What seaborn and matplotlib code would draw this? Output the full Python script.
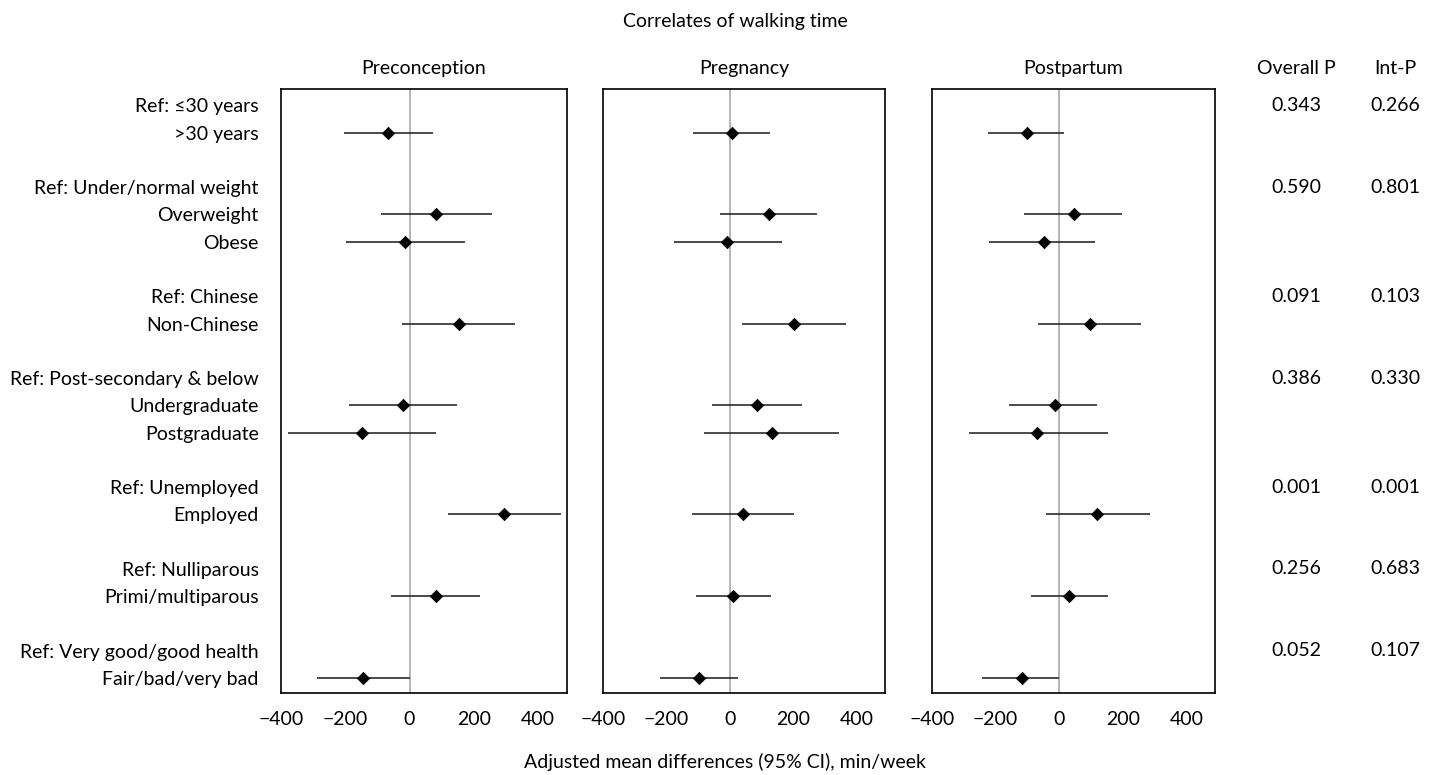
import matplotlib
matplotlib.use("Agg")
import matplotlib.pyplot as plt
import matplotlib.transforms as mtransforms
import seaborn as sns
import pandas as pd

sns.set_style("white")
plt.rcParams['font.family'] = ['Lato', 'DejaVu Sans']
plt.rcParams['text.color'] = 'black'
plt.rcParams['xtick.color'] = 'black'
plt.rcParams['ytick.color'] = 'black'

row_labels = ["Ref: \u226430 years", ">30 years", "",
              "Ref: Under/normal weight", "Overweight", "Obese", "",
              "Ref: Chinese", "Non-Chinese", "",
              "Ref: Post-secondary & below", "Undergraduate", "Postgraduate", "",
              "Ref: Unemployed", "Employed", "",
              "Ref: Nulliparous", "Primi/multiparous", "",
              "Ref: Very good/good health", "Fair/bad/very bad"]

est_rows = [">30 years", "Overweight", "Obese", "Non-Chinese", "Undergraduate",
            "Postgraduate", "Employed", "Primi/multiparous", "Fair/bad/very bad"]

periods = ["Preconception", "Pregnancy", "Postpartum"]

pre_est = [-67, 82, -14, 154, -19, -147, 295, 81, -144]
pre_lo = [-204, -88, -198, -24, -189, -379, 121, -57, -287]
pre_hi = [72, 256, 173, 329, 149, 83, 471, 218, 0]

preg_est = [7, 124, -9, 204, 87, 132, 41, 11, -98]
preg_lo = [-116, -32, -177, 39, -57, -80, -119, -106, -221]
preg_hi = [127, 276, 164, 367, 228, 346, 202, 129, 26]

post_est = [-100, 45, -48, 98, -13, -69, 120, 30, -118]
post_lo = [-224, -110, -221, -67, -158, -283, -43, -88, -243]
post_hi = [16, 196, 112, 256, 119, 155, 285, 154, 0]

p_rows = ["Ref: \u226430 years", "Ref: Under/normal weight", "Ref: Chinese",
          "Ref: Post-secondary & below", "Ref: Unemployed", "Ref: Nulliparous",
          "Ref: Very good/good health"]
overall_p = ["0.343", "0.590", "0.091", "0.386", "0.001", "0.256", "0.052"]
int_p = ["0.266", "0.801", "0.103", "0.330", "0.001", "0.683", "0.107"]

x_ticks = [-400, -200, 0, 200, 400]

frames = []
for per, e, lo, hi in zip(periods, [pre_est, preg_est, post_est],
                          [pre_lo, preg_lo, post_lo], [pre_hi, preg_hi, post_hi]):
    frames.append(pd.DataFrame({"period": per, "label": est_rows,
                                "est": e, "lo": lo, "hi": hi}))
df = pd.concat(frames, ignore_index=True)
row_index = {lab: i for i, lab in enumerate(row_labels)}
df["row"] = df["label"].map(row_index)

W, H = 1440, 775
fig = plt.figure(figsize=(W / 100, H / 100), dpi=100)

panel_px = [(281, 567), (603, 885), (932, 1215)]
top_px, bot_px = 89, 693
axes = []
for (l, r) in panel_px:
    ax = fig.add_axes([l / W, (H - bot_px) / H, (r - l) / W, (bot_px - top_px) / H])
    axes.append(ax)

fs = 14
for ax, per in zip(axes, periods):
    sub = df[df["period"] == per]
    ax.axvline(0, color="#b0b0b0", lw=1.3, zorder=1)
    ax.hlines(sub["row"], sub["lo"], sub["hi"], color="#1a1a1a", lw=1.1, zorder=2)
    sns.scatterplot(data=sub, x="est", y="row", marker="D", s=40, color="black",
                    edgecolor="black", linewidth=0.5, ax=ax, zorder=3, legend=False)
    ax.set_xlim(-400, 490)
    ax.set_ylim(21.55, -0.6)
    ax.set_xticks(x_ticks)
    ax.set_xticklabels(["\u2212400", "\u2212200", "0", "200", "400"], fontsize=fs)
    ax.tick_params(axis="x", length=0, pad=13)
    ax.set_xlabel("")
    ax.set_ylabel("")
    ax.set_yticks([])
    ax.set_title(per, fontsize=fs, pad=11)
    for s in ax.spines.values():
        s.set_visible(True)
        s.set_color("black")
        s.set_linewidth(1.2)

axes[0].set_yticks(range(len(row_labels)))
axes[0].set_yticklabels(row_labels, fontsize=fs)
axes[0].tick_params(axis="y", length=0, pad=16)

tr = mtransforms.blended_transform_factory(fig.transFigure, axes[2].transData)
for lab, op, ip in zip(p_rows, overall_p, int_p):
    y = row_index[lab]
    axes[2].text(1296 / W, y, op, transform=tr, ha="center", va="center", fontsize=fs)
    axes[2].text(1395 / W, y, ip, transform=tr, ha="center", va="center", fontsize=fs)
fig.text(1296 / W, 1 - 68 / H, "Overall P", ha="center", va="center", fontsize=fs)
fig.text(1395 / W, 1 - 68 / H, "Int-P", ha="center", va="center", fontsize=fs)

fig.text(735 / W, 1 - 22 / H, "Correlates of walking time", ha="center", va="center", fontsize=fs)
fig.text(725 / W, 1 - 762 / H, "Adjusted mean differences (95% CI), min/week",
         ha="center", va="center", fontsize=fs)

fig.savefig("out.png", dpi=100, facecolor="white")
